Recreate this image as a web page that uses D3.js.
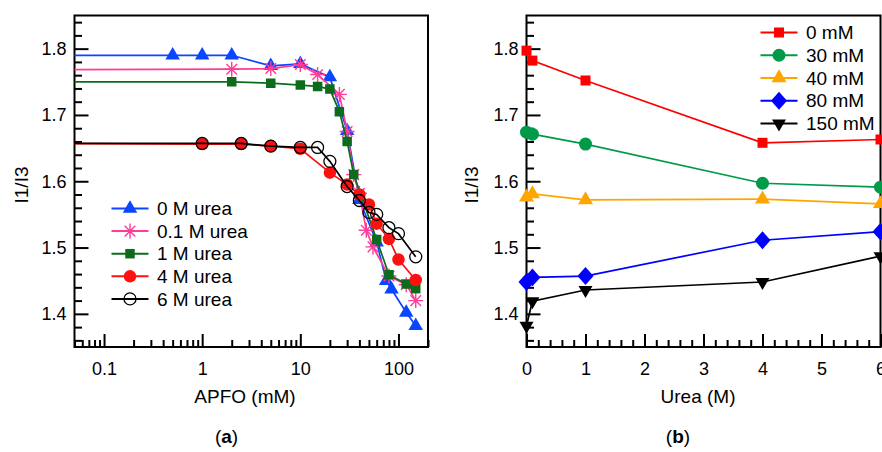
<!DOCTYPE html>
<html>
<head>
<meta charset="utf-8">
<script src="https://cdn.jsdelivr.net/npm/d3@7/dist/d3.min.js"></script>
<style>
  html, body { margin: 0; padding: 0; background: #fff; }
  svg text { font-family: Arial, "Liberation Sans", Helvetica, sans-serif; fill: #000; }
</style>
</head>
<body>
<svg id="chart" width="882" height="452"></svg>
<script>
// ---------- Panel (a): I1/I3 ratio against APFO concentration ----------
const apfoTickValues  = [0.1, 1, 10, 100];
const apfoTickLabels  = ["0.1", "1", "10", "100"];
const ratioTickValues = [1.4, 1.5, 1.6, 1.7, 1.8];
const ratioTickLabels = ["1.4", "1.5", "1.6", "1.7", "1.8"];
const ureaSeriesNames = ["0 M urea", "0.1 M urea", "1 M urea", "4 M urea", "6 M urea"];

// the APFO-free reading is stored at 0.01 mM, left of the visible log range
const urea0M_apfo    = [0.01, 0.5, 1, 2, 5, 10, 20, 30, 40, 60, 75, 85, 120, 150];
const urea0M_ratio   = [1.79, 1.79, 1.79, 1.79, 1.774, 1.777, 1.757, 1.676, 1.572, 1.508, 1.45, 1.437, 1.402, 1.382];
const urea01M_apfo   = [0.01, 2, 5, 10, 15, 25, 30, 35, 40, 47, 55, 80, 120, 150];
const urea01M_ratio  = [1.768, 1.769, 1.770, 1.776, 1.761, 1.731, 1.675, 1.61, 1.582, 1.526, 1.501, 1.457, 1.444, 1.42];
const urea1M_apfo    = [0.01, 2, 5, 10, 15, 20, 25, 30, 35, 60, 80, 120, 150];
const urea1M_ratio   = [1.75, 1.75, 1.748, 1.745, 1.743, 1.739, 1.705, 1.66, 1.61, 1.512, 1.459, 1.445, 1.438];
const urea4M_apfo    = [0.01, 1, 2.5, 5, 10, 20, 30, 40, 50, 60, 80, 100, 150];
const urea4M_ratio   = [1.657, 1.656, 1.656, 1.653, 1.649, 1.613, 1.595, 1.58, 1.565, 1.536, 1.513, 1.482, 1.451];
const urea6M_apfo    = [0.01, 1, 2.5, 5, 10, 15, 20, 30, 40, 50, 60, 80, 100, 150];
const urea6M_ratio   = [1.657, 1.657, 1.657, 1.653, 1.651, 1.651, 1.63, 1.592, 1.571, 1.553, 1.55, 1.53, 1.521, 1.486];

// ---------- Panel (b): I1/I3 ratio against urea concentration ----------
const ureaTickValues  = [0, 1, 2, 3, 4, 5, 6];
const ureaTickLabels  = ["0", "1", "2", "3", "4", "5", "6"];
const apfoSeriesNames = ["0 mM", "30 mM", "40 mM", "80 mM", "150 mM"];
const ureaLevels      = [0, 0.1, 1, 4, 6];
const apfo0mM_ratio   = [1.797, 1.782, 1.752, 1.658, 1.663];
const apfo30mM_ratio  = [1.674, 1.671, 1.656, 1.597, 1.591];
const apfo40mM_ratio  = [1.576, 1.581, 1.572, 1.573, 1.566];
const apfo80mM_ratio  = [1.448, 1.455, 1.457, 1.511, 1.524];
const apfo150mM_ratio = [1.382, 1.419, 1.436, 1.448, 1.487];

// ---------- layout ----------
const svg = d3.select("#chart");
const FONT = "Arial, 'Liberation Sans', Helvetica, sans-serif";
const FS = 18;        // tick labels
const FS_LABEL = 19;  // axis titles and legend entries

const frameA = { left: 74.5, right: 428, top: 15.5, bottom: 347 };
const frameB = { left: 526.5, right: 880.5, top: 15.5, bottom: 347 };

const xA = d3.scaleLog().domain([0.05, 200]).range([frameA.left, frameA.right]);
const yA = d3.scaleLinear().domain([1.35, 1.85]).range([frameA.bottom, frameA.top]);
const xB = d3.scaleLinear().domain([0, 6]).range([frameB.left, frameB.right]);
const yB = d3.scaleLinear().domain([1.35, 1.85]).range([frameB.bottom, frameB.top]);

const ratioMinor = d3.range(1.36, 1.845, 0.02).map(v => +v.toFixed(2))
  .filter(v => !ratioTickValues.some(t => Math.abs(t - v) < 1e-6));
const apfoMinor = [];
[0.01, 0.1, 1, 10, 100].forEach(dec => {
  for (let m = 2; m <= 9; m++) {
    const v = +(dec * m).toPrecision(3);
    if (v >= 0.05 && v <= 200) apfoMinor.push(v);
  }
});
const ureaMinor = d3.range(0, 6.001, 0.2).map(v => +v.toFixed(1))
  .filter(v => Math.abs(v - Math.round(v)) > 1e-6);

// ---------- marker shapes ----------
function shapePath(shape, size) {
  switch (shape) {
    case "triangle":
    case "triangleDown":
      return d3.symbol(d3.symbolTriangle, size * size * 0.433)();
    case "square":
      return d3.symbol(d3.symbolSquare, size * size)();
    case "circle":
      return d3.symbol(d3.symbolCircle, Math.PI * size * size / 4)();
    case "diamond": {
      const w = size / 2, h = size * 0.56;
      return `M0,${-h}L${w},0L0,${h}L${-w},0Z`;
    }
    case "star": {
      const r = size / 2, a = r * 0.707;
      return `M${-r},0L${r},0M0,${-r}L0,${r}M${-a},${-a}L${a},${a}M${-a},${a}L${a},${-a}`;
    }
  }
}

function styleMarker(sel, st) {
  sel.attr("d", shapePath(st.shape, st.size))
    .attr("fill", st.fill)
    .attr("stroke", st.stroke || "none")
    .attr("stroke-width", st.markerStroke || 0);
}

function markerTransform(px, py, st) {
  return `translate(${px},${py})` + (st.shape === "triangleDown" ? " rotate(180)" : "");
}

// ---------- axes & frame ----------
function drawAxes(g, x, y, frame, xt, xl, xm, yt, yl, ym) {
  const styleAxis = sel => {
    sel.attr("font-size", null).attr("font-family", null);
    sel.select(".domain").remove();
    sel.selectAll(".tick line").attr("stroke", "#000").attr("stroke-width", 2);
    sel.selectAll(".tick text").attr("font-size", FS).attr("font-family", FONT).attr("fill", "#000");
  };
  g.append("g").attr("transform", `translate(0,${frame.bottom})`)
    .call(d3.axisBottom(x).tickValues(xm).tickFormat("").tickSizeInner(-7).tickSizeOuter(0))
    .call(styleAxis);
  g.append("g").attr("transform", `translate(0,${frame.bottom})`)
    .call(d3.axisBottom(x).tickValues(xt).tickFormat((d, i) => xl[i])
      .tickSizeInner(-13).tickSizeOuter(0).tickPadding(15))
    .call(styleAxis);
  g.append("g").attr("transform", `translate(${frame.left},0)`)
    .call(d3.axisLeft(y).tickValues(ym).tickFormat("").tickSizeInner(-7.5).tickSizeOuter(0))
    .call(styleAxis);
  g.append("g").attr("transform", `translate(${frame.left},0)`)
    .call(d3.axisLeft(y).tickValues(yt).tickFormat((d, i) => yl[i])
      .tickSizeInner(-14).tickSizeOuter(0).tickPadding(8))
    .call(styleAxis);
  g.append("rect")
    .attr("x", frame.left).attr("y", frame.top)
    .attr("width", frame.right - frame.left).attr("height", frame.bottom - frame.top)
    .attr("fill", "none").attr("stroke", "#000").attr("stroke-width", 2);
}

// ---------- series ----------
function drawSeries(g, x, y, xs, ys, st) {
  const pts = xs.map((v, i) => [v, ys[i]]);
  g.append("path").datum(pts)
    .attr("fill", "none").attr("stroke", st.color).attr("stroke-width", st.lineWidth || 1.7)
    .attr("d", d3.line().x(d => x(d[0])).y(d => y(d[1])));
  g.selectAll(null).data(pts).join("path")
    .attr("transform", d => markerTransform(x(d[0]), y(d[1]), st))
    .call(styleMarker, st);
}

function drawLegend(g, names, styles, lineX0, lineX1, textX, y0, dy) {
  names.forEach((name, i) => {
    const st = styles[i];
    const cy = y0 + i * dy;
    g.append("line").attr("x1", lineX0).attr("x2", lineX1).attr("y1", cy).attr("y2", cy)
      .attr("stroke", st.color).attr("stroke-width", 2);
    g.append("path").attr("transform", markerTransform((lineX0 + lineX1) / 2, cy, st)).call(styleMarker, st);
    g.append("text").attr("x", textX).attr("y", cy).attr("dy", "0.35em")
      .attr("font-size", FS_LABEL).text(name);
  });
}

// ---------- panel (a) ----------
const stylesA = [
  { color: "#0a46ff", fill: "#0a46ff", shape: "triangle", size: 14.5 },
  { color: "#ff3d97", fill: "none", stroke: "#ff3d97", markerStroke: 1.4, shape: "star", size: 15 },
  { color: "#0d6b1c", fill: "#0d6b1c", shape: "square", size: 9.5 },
  { color: "#ff1010", fill: "#ff1010", shape: "circle", size: 12.5 },
  { color: "#000000", fill: "none", stroke: "#000", markerStroke: 1.3, shape: "circle", size: 12 }
];
const seriesA = [
  [urea0M_apfo, urea0M_ratio],
  [urea01M_apfo, urea01M_ratio],
  [urea1M_apfo, urea1M_ratio],
  [urea4M_apfo, urea4M_ratio],
  [urea6M_apfo, urea6M_ratio]
];

const gA = svg.append("g");
svg.append("defs").append("clipPath").attr("id", "plotA").append("rect")
  .attr("x", frameA.left).attr("y", frameA.top)
  .attr("width", frameA.right - frameA.left).attr("height", frameA.bottom - frameA.top);

drawAxes(gA, xA, yA, frameA, apfoTickValues, apfoTickLabels, apfoMinor,
  ratioTickValues, ratioTickLabels, ratioMinor);
const plotA = gA.append("g").attr("clip-path", "url(#plotA)");
seriesA.forEach((s, i) => drawSeries(plotA, xA, yA, s[0], s[1], stylesA[i]));
drawLegend(gA, ureaSeriesNames, stylesA, 111.5, 148.5, 157, 208.5, 22.6);

gA.append("text").attr("x", 245).attr("y", 403).attr("text-anchor", "middle")
  .attr("font-size", FS_LABEL).text("APFO (mM)");
gA.append("text").attr("transform", "translate(21,185) rotate(-90)").attr("dy", "0.35em")
  .attr("text-anchor", "middle").attr("font-size", FS_LABEL).text("I1/I3");

// ---------- panel (b) ----------
const stylesB = [
  { color: "#ff0000", fill: "#ff0000", shape: "square", size: 10 },
  { color: "#009a48", fill: "#009a48", shape: "circle", size: 13 },
  { color: "#ffa500", fill: "#ffa500", shape: "triangle", size: 15 },
  { color: "#0000ff", fill: "#0000ff", shape: "diamond", size: 16 },
  { color: "#000000", fill: "#000000", shape: "triangleDown", size: 14 }
];
const seriesB = [apfo0mM_ratio, apfo30mM_ratio, apfo40mM_ratio, apfo80mM_ratio, apfo150mM_ratio];

const gB = svg.append("g");
drawAxes(gB, xB, yB, frameB, ureaTickValues, ureaTickLabels, ureaMinor,
  ratioTickValues, ratioTickLabels, ratioMinor);
seriesB.forEach((ys, i) => drawSeries(gB, xB, yB, ureaLevels, ys, stylesB[i]));
drawLegend(gB, apfoSeriesNames, stylesB, 760.5, 797.5, 806, 32.5, 22.75);

gB.append("text").attr("x", 698).attr("y", 403).attr("text-anchor", "middle")
  .attr("font-size", FS_LABEL).text("Urea (M)");
gB.append("text").attr("transform", "translate(471,185) rotate(-90)").attr("dy", "0.35em")
  .attr("text-anchor", "middle").attr("font-size", FS_LABEL).text("I1/I3");

// ---------- panel captions ----------
function caption(x, letter) {
  const t = svg.append("text").attr("x", x).attr("y", 443).attr("text-anchor", "middle")
    .attr("font-family", "'Liberation Serif', 'Times New Roman', serif").attr("font-size", 19);
  t.append("tspan").text("(");
  t.append("tspan").attr("font-weight", "bold").text(letter);
  t.append("tspan").text(")");
}
caption(226.5, "a");
caption(678, "b");
</script>
</body>
</html>
